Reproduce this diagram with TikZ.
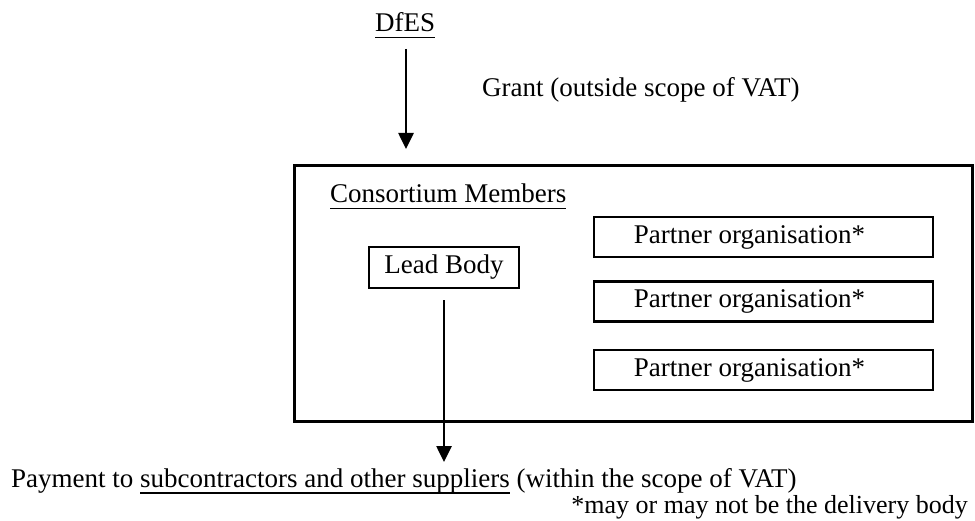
\documentclass[tikz,border=0pt]{standalone}
\usepackage{fontspec}
\setmainfont{Liberation Serif}
\usetikzlibrary{arrows.meta}
\newcommand\myul[1]{\setbox0\hbox{#1}\rlap{\rule[-6.5pt]{\wd0}{1.3pt}}\box0\relax}
\begin{document}
\begin{tikzpicture}[x=1pt,y=-1pt,
  txt/.style={inner sep=0pt, font=\fontsize{27}{32}\selectfont},
  box/.style={draw, line width=2.6pt, inner sep=0pt, font=\fontsize{27}{32}\selectfont},
  pbox/.style={box, minimum width=339pt, minimum height=40pt},
  arr/.style={line width=2.6pt, -{Triangle[width=15pt,length=16pt]}}]
\useasboundingbox (0,0) rectangle (975,521);
\node[txt, anchor=base west] (dfes) at (375,32) {\myul{DfES}};
\node[txt, anchor=base west] (grant) at (482,97) {Grant (outside scope of VAT)};
\node[box, minimum width=678pt, minimum height=256pt, anchor=north west] (outer) at (293,164) {};
\node[txt, anchor=base west] (cons) at (330,203) {\myul{Consortium Members}};
\node[box, minimum width=150pt, minimum height=41pt] (lead) at (444,267.5) {Lead Body};
\node[pbox] (p1) at (763.5,237) {};
\node[pbox] (p2) at (763.5,301.5) {};
\node[pbox] (p3) at (763.5,370) {};
\node[txt, anchor=west] (t1) at ([xshift=41pt]p1.west) {Partner organisation*};
\node[txt, anchor=west] (t2) at ([xshift=41pt]p2.west) {Partner organisation*};
\node[txt, anchor=west] (t3) at ([xshift=41pt]p3.west) {Partner organisation*};
\node[txt, anchor=base west] (pay) at (11,487) {Payment to \myul{subcontractors and other suppliers} (within the scope of VAT)};
\node[txt, anchor=base east, font=\fontsize{26}{31}\selectfont] (note) at (968,513) {*may or may not be the delivery body};
\coordinate (a1s) at (406,49);
\coordinate (a1e) at (406,149);
\draw[arr] (a1s) -- (a1e);
\coordinate (a2s) at ([yshift=-11pt]lead.south);
\coordinate (a2e) at (444,462);
\draw[arr] (a2s) -- (a2e);
\end{tikzpicture}
\end{document}
